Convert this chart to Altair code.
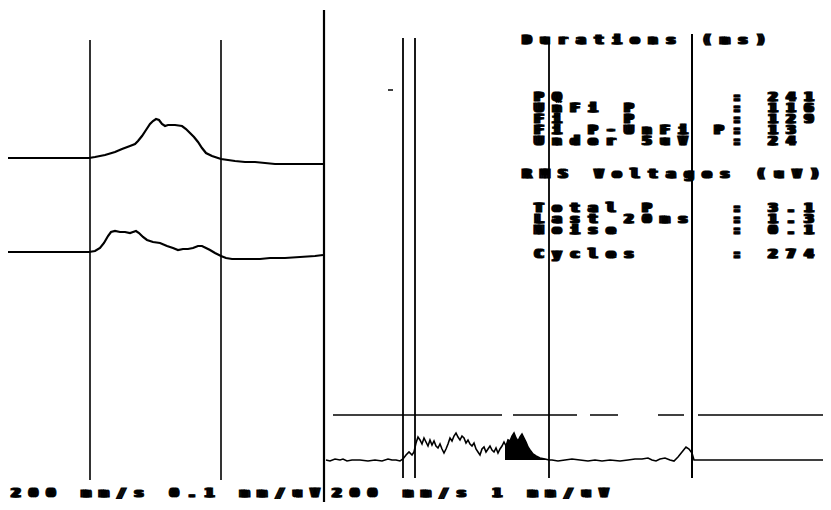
import altair as alt
import pandas as pd

# ---------------- data (x: horizontal units, y: vertical units, downward) -------------
# Left panel, upper averaged P-wave trace (0.1 mm/uV)
top_x = [8, 30, 60, 89, 95, 105, 115, 122, 130, 135, 138, 142, 146, 150, 153, 156, 159, 162, 165, 168,
         175, 182, 186, 190, 194, 198, 202, 206, 212, 218, 221, 228, 235, 245, 255, 265, 275, 300, 323]
top_y = [158, 158, 158, 158, 157, 155, 152, 149, 146, 144, 141, 136, 130, 124, 121, 119, 120, 124, 126, 125,
         125, 126, 129, 133, 137, 142, 148, 153, 156, 158, 159, 160, 161, 162, 162, 163, 164, 164, 164]

# Left panel, lower averaged P-wave trace
bot_x = [8, 50, 89, 95, 100, 104, 108, 111, 115, 120, 125, 130, 133, 136, 139, 143, 147, 153, 160, 167,
         173, 178, 183, 188, 193, 198, 202, 206, 210, 215, 221, 226, 232, 245, 260, 270, 285, 300, 315, 323]
bot_y = [252, 252, 252, 251, 248, 243, 236, 232, 231, 232, 232, 233, 232, 231, 233, 237, 240, 242, 243, 246,
         248, 250, 249, 249, 248, 246, 246, 248, 250, 253, 256, 258, 259, 259, 259, 258, 258, 257, 256, 255]

# Right panel, filtered vector magnitude (1 mm/uV)
vm_x = [326, 330, 335, 340, 343, 347, 352, 360, 368, 375, 382, 388, 392, 396, 400, 403, 406, 409, 412, 414,
        416, 418, 420, 422, 424, 426, 428, 430, 432, 434, 436, 438, 440, 442, 444, 446, 448, 450, 452, 454,
        456, 458, 460, 462, 464, 466, 468, 470, 472, 474, 476, 478, 480, 482, 484, 486, 488, 490, 492, 494,
        496, 498, 500, 502, 504, 505, 506, 508, 510, 512, 514, 516, 518, 520, 522, 524, 526, 528, 530, 533,
        536, 540, 545, 549, 552, 558, 565, 572, 580, 588, 595, 602, 610, 620, 628, 635, 642, 648, 652, 656,
        660, 665, 670, 674, 678, 682, 686, 689, 692, 694, 700, 760, 823]
vm_y = [460, 461, 459, 460, 459, 461, 460, 460, 461, 460, 461, 459, 460, 460, 461, 459, 455, 452, 455, 452,
        443, 437, 440, 444, 438, 442, 446, 440, 445, 441, 446, 448, 444, 449, 453, 449, 444, 438, 441, 436,
        433, 437, 440, 436, 438, 443, 440, 444, 446, 443, 449, 452, 455, 449, 447, 452, 449, 446, 450, 452,
        448, 453, 449, 446, 442, 444, 446, 440, 441, 436, 433, 438, 441, 437, 434, 438, 442, 447, 450, 454,
        456, 458, 459, 460, 460, 461, 460, 459, 460, 461, 460, 461, 460, 461, 460, 459, 459, 458, 460, 461,
        459, 458, 460, 461, 457, 452, 447, 449, 453, 460, 460, 460, 460]
vm_baseline = 460
fill_from, fill_to = 505, 549          # last-20-ms region shaded under the curve

# Vertical markers: x, top, bottom, width
vline_x = [90, 221, 324, 403, 415, 549, 692]
vline_top = [40, 40, 10, 38, 38, 38, 34]
vline_bot = [480, 480, 502, 478, 478, 478, 478]
vline_w = [1.6, 1.6, 2.2, 1.8, 1.8, 1.8, 2.0]

# 5 uV threshold (dashed) and small tick
thr_start = [333, 513, 590, 658, 698]
thr_end = [502, 577, 618, 684, 823]
thr_level = 415
tick_start, tick_end, tick_level = [388], [393], [90]

# Text block
hdr_durations = "Durations (ms)"
dur_labels = ["PQ", "UnFi P", "Fi   P", "Fi P-UnFi P", "Under 5uV"]
dur_values = ["241", "116", "129", "13", "24"]
hdr_rms = "RMS Voltages (uV)"
rms_labels = ["Total P", "Last 20ms", "Noise"]
rms_values = ["3.1", "1.3", "0.1"]
cyc_label, cyc_value = "Cycles", "274"
left_scale_label = "200 mm/s 0.1 mm/uV"
right_scale_label = "200 mm/s 1 mm/uV"

# ---------------- build tables ----------------
traces = pd.concat([
    pd.DataFrame({"x": top_x, "y": top_y, "s": "top"}),
    pd.DataFrame({"x": bot_x, "y": bot_y, "s": "bottom"}),
])
vm = pd.DataFrame({"x": vm_x, "y": vm_y, "base": vm_baseline})
vm_fill = vm[(vm.x >= fill_from) & (vm.x <= fill_to)]
vlines = pd.DataFrame({"x": vline_x, "y": vline_top, "y2": vline_bot, "w": vline_w})
thr = pd.DataFrame({"x": thr_start + tick_start, "x2": thr_end + tick_end,
                    "y": [thr_level] * len(thr_start) + tick_level})


def row(label, value):
    return label.ljust(11) + ": " + value


text_lines = [(hdr_durations, 518, 40, 18.0)]
for lab, val, yy in zip(dur_labels, dur_values, [97, 108, 119, 130, 141]):
    text_lines.append((row(lab, val), 530, yy, 18.0))
text_lines.append((hdr_rms, 518, 174, 18.0))
for lab, val, yy in zip(rms_labels, rms_values, [208, 219, 230]):
    text_lines.append((row(lab, val), 530, yy, 18.0))
text_lines.append((row(cyc_label, cyc_value), 530, 254, 18.0))
text_lines.append((left_scale_label, 7, 493, 17.6))
text_lines.append((right_scale_label, 328, 493, 17.8))

# fixed-width printer font: each character sits in its own cell; a small
# horizontal smear gives the wide, heavy look of the original bitmap font
recs = []
for t, x0, yy, cw in text_lines:
    for i, ch in enumerate(t):
        if ch == " ":
            continue
        for off in (-2.0, 0.0, 2.0):
            recs.append({"x": x0 + (i + 0.5) * cw + off, "y": yy, "ch": ch})
chars = pd.DataFrame(recs)

# ---------------- chart ----------------
XS = alt.Scale(domain=[8, 823], nice=False, zero=False)
YS = alt.Scale(domain=[8, 502], nice=False, zero=False, reverse=True)

vl = alt.Chart(vlines).mark_rule(color="black").encode(
    x=alt.X("x:Q", scale=XS, axis=None),
    y=alt.Y("y:Q", scale=YS, axis=None),
    y2="y2:Q",
    strokeWidth=alt.StrokeWidth("w:Q", scale=None),
)

th = alt.Chart(thr).mark_rule(color="black", strokeWidth=1.5).encode(
    x=alt.X("x:Q", scale=XS, axis=None),
    x2="x2:Q",
    y=alt.Y("y:Q", scale=YS, axis=None),
)

tr = alt.Chart(traces).mark_line(color="black", strokeWidth=2.2).encode(
    x=alt.X("x:Q", scale=XS, axis=None),
    y=alt.Y("y:Q", scale=YS, axis=None),
    detail="s:N",
    order="x:Q",
)

fill = alt.Chart(vm_fill).mark_area(color="black", opacity=1, interpolate="linear").encode(
    x=alt.X("x:Q", scale=XS, axis=None),
    y=alt.Y("y:Q", scale=YS, axis=None),
    y2="base:Q",
)

vml = alt.Chart(vm).mark_line(color="black", strokeWidth=1.6).encode(
    x=alt.X("x:Q", scale=XS, axis=None),
    y=alt.Y("y:Q", scale=YS, axis=None),
    order="x:Q",
)

txt = alt.Chart(chars).mark_text(
    font="DejaVu Sans Mono", fontWeight="bold", fontSize=13,
    align="center", baseline="middle", color="black",
    stroke="black", strokeWidth=0.8,
).encode(
    x=alt.X("x:Q", scale=XS, axis=None),
    y=alt.Y("y:Q", scale=YS, axis=None),
    text="ch:N",
)

chart = alt.layer(vl, th, tr, fill, vml, txt).properties(
    width=815, height=494, padding=0, autosize="none", background="white"
).configure_view(stroke=None)

chart.save("out.html", embed_options={"renderer": "svg", "actions": False})
